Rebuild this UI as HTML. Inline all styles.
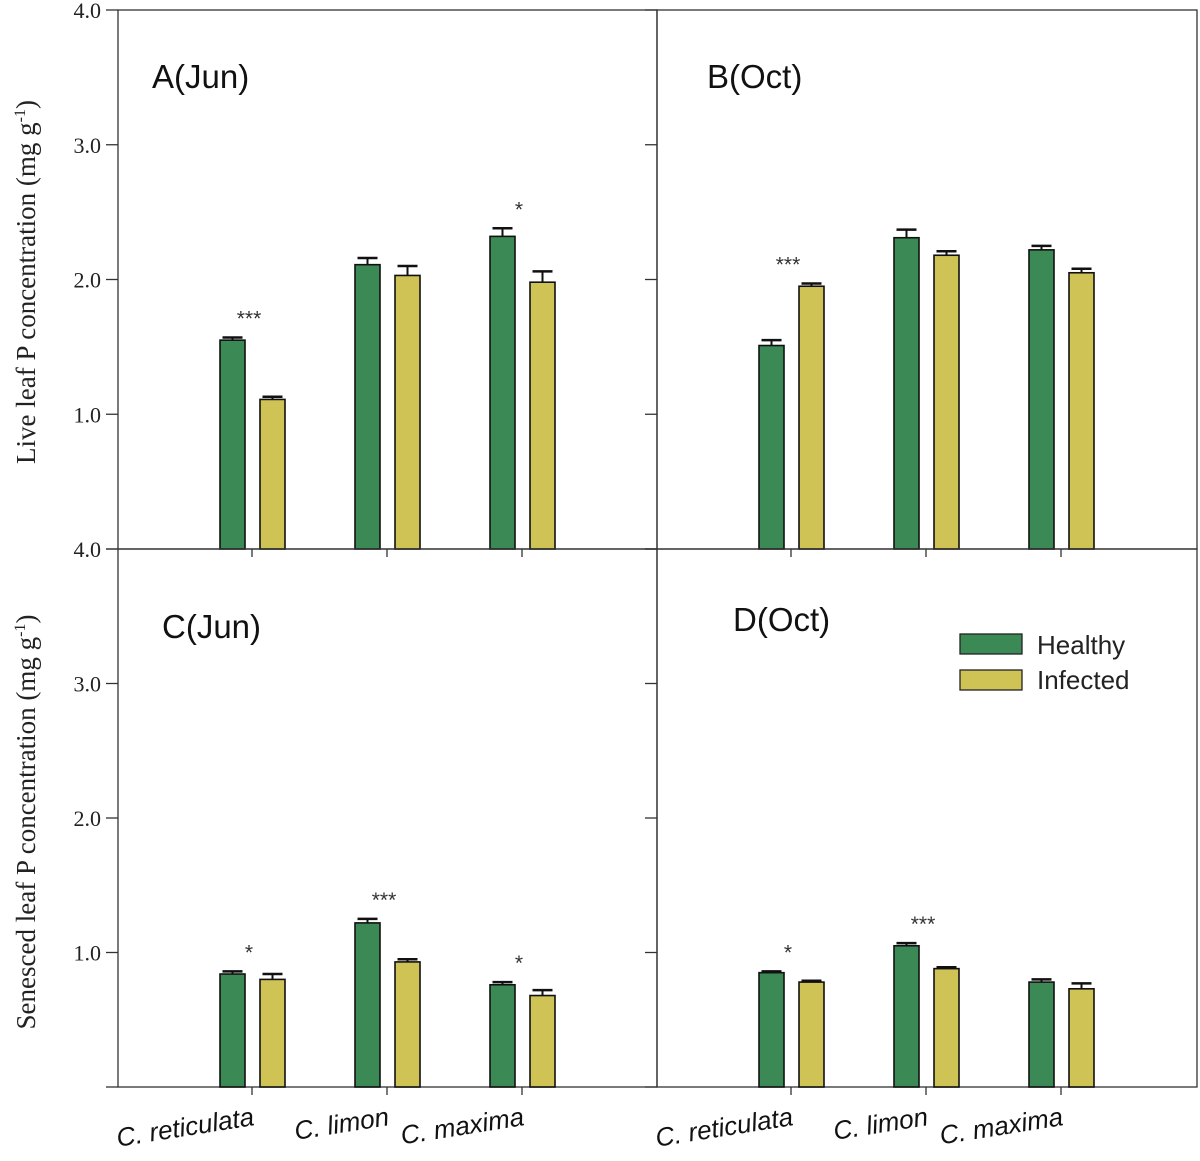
<!DOCTYPE html>
<html><head><meta charset="utf-8">
<style>
html,body{margin:0;padding:0;background:#fff;}
svg{display:block;}
</style></head>
<body>
<svg id="chart" width="1200" height="1161" viewBox="0 0 1200 1161" xmlns="http://www.w3.org/2000/svg"></svg>
<script>
const categories = ["C. reticulata", "C. limon", "C. maxima"];
const yTicks = [1, 2, 3, 4];
const yTickLabels = ["1.0", "2.0", "3.0", "4.0"];
// Panel A (Jun, live)
const aHealthy = [1.55, 2.11, 2.32];
const aHealthyErr = [0.02, 0.05, 0.06];
const aInfected = [1.11, 2.03, 1.98];
const aInfectedErr = [0.02, 0.07, 0.08];
const aStars = ["***", "", "*"];
// Panel B (Oct, live)
const bHealthy = [1.51, 2.31, 2.22];
const bHealthyErr = [0.04, 0.06, 0.03];
const bInfected = [1.95, 2.18, 2.05];
const bInfectedErr = [0.02, 0.03, 0.03];
const bStars = ["***", "", ""];
// Panel C (Jun, senesced)
const cHealthy = [0.84, 1.22, 0.76];
const cHealthyErr = [0.02, 0.03, 0.02];
const cInfected = [0.80, 0.93, 0.68];
const cInfectedErr = [0.04, 0.02, 0.04];
const cStars = ["*", "***", "*"];
// Panel D (Oct, senesced)
const dHealthy = [0.85, 1.05, 0.78];
const dHealthyErr = [0.01, 0.02, 0.02];
const dInfected = [0.78, 0.88, 0.73];
const dInfectedErr = [0.01, 0.01, 0.04];
const dStars = ["*", "***", ""];

const NS = "http://www.w3.org/2000/svg";
const svg = document.getElementById("chart");
const GREEN = "#3b8a55", YELLOW = "#cfc356";
function mk(tag, attrs, parent, text) {
  const e = document.createElementNS(NS, tag);
  for (const k in attrs) e.setAttribute(k, attrs[k]);
  if (text !== undefined) e.textContent = text;
  (parent || svg).appendChild(e);
  return e;
}
const panels = [
  {id:"a", label:"A(Jun)", x0:118, x1:657, top:10, bottom:549, h:aHealthy, he:aHealthyErr, f:aInfected, fe:aInfectedErr, stars:aStars, lx:152, ly:88},
  {id:"b", label:"B(Oct)", x0:657, x1:1197, top:10, bottom:549, h:bHealthy, he:bHealthyErr, f:bInfected, fe:bInfectedErr, stars:bStars, lx:707, ly:88},
  {id:"c", label:"C(Jun)", x0:118, x1:657, top:549, bottom:1087, h:cHealthy, he:cHealthyErr, f:cInfected, fe:cInfectedErr, stars:cStars, lx:162, ly:638},
  {id:"d", label:"D(Oct)", x0:657, x1:1197, top:549, bottom:1087, h:dHealthy, he:dHealthyErr, f:dInfected, fe:dInfectedErr, stars:dStars, lx:733, ly:631}
];
panels.forEach(p => {
  const g = mk("g", {});
  
  
  const scale = (p.bottom - p.top) / 4;
  const y = v => p.bottom - v * scale;
  const xc = i => p.x0 + 134 + i * 135;
  const fr = mk("rect", {x:p.x0, y:p.top, width:p.x1-p.x0, height:p.bottom-p.top, fill:"none", stroke:"#333", "stroke-width":1.3}, g);
  
  
  yTicks.forEach((t, k) => {
    mk("line", {x1:p.x0-12, x2:p.x0, y1:y(t), y2:y(t), stroke:"#333", "stroke-width":1.3}, g);
    if (p.x0 < 200) {
      const tl = mk("text", {x:p.x0-17, y:y(t)+8, "text-anchor":"end", "font-family":"Liberation Serif, serif", "font-size":22, fill:"#222"}, g, yTickLabels[k]);
      
      
    }
  });
  mk("line", {x1:p.x0-12, x2:p.x0, y1:p.bottom, y2:p.bottom, stroke:"#333", "stroke-width":1.3}, g);
  categories.forEach((c, i) => {
    mk("line", {x1:xc(i), x2:xc(i), y1:p.bottom, y2:p.bottom+8, stroke:"#333", "stroke-width":1.3}, g);
  });
  categories.forEach((c, i) => {
    [[p.h, p.he, GREEN, -32, "healthy"], [p.f, p.fe, YELLOW, 8, "infected"]].forEach(s => {
      const v = s[0][i], e = s[1][i], bx = xc(i) + s[3];
      const cx = bx + 12.5;
      mk("line", {x1:cx, x2:cx, y1:y(v), y2:y(v+e), stroke:"#111", "stroke-width":2}, g);
      const cap = mk("line", {x1:cx-10, x2:cx+10, y1:y(v+e), y2:y(v+e), stroke:"#111", "stroke-width":2.5}, g);
      
      
      const r = mk("rect", {x:bx, y:y(v), width:25, height:p.bottom - y(v), fill:s[2], stroke:"#111", "stroke-width":1.6}, g);
      
      
    });
    if (p.stars[i]) {
      const top = Math.max(p.h[i] + p.he[i], p.f[i] + p.fe[i]);
      const st = mk("text", {x:xc(i)-3, y:y(top)-12, "text-anchor":"middle", "font-family":"Liberation Sans, sans-serif", "font-size":21, fill:"#333"}, g, p.stars[i]);
      
      
    }
    if (p.bottom > 1000) {
      const lab = mk("text", {x:xc(i)+3, y:p.bottom+38, "text-anchor":"end", "font-family":"Liberation Sans, sans-serif", "font-size":26, "font-style":"italic", fill:"#111", transform:`rotate(-9 ${xc(i)+3} ${p.bottom+38})`}, g, c);
      
      
    }
  });
  const pl = mk("text", {x:p.lx, y:p.ly, "font-family":"Liberation Sans, sans-serif", "font-size":33, fill:"#111"}, g, p.label);
  
  
});
const t1 = mk("text", {x:0, y:0, "text-anchor":"middle", "font-family":"Liberation Serif, serif", "font-size":27, fill:"#222", transform:"translate(35 282) rotate(-90)"});


t1.innerHTML = 'Live leaf P concentration (mg g<tspan dy="-10" font-size="16">-1</tspan><tspan dy="10">)</tspan>';
const t2 = mk("text", {x:0, y:0, "text-anchor":"middle", "font-family":"Liberation Serif, serif", "font-size":27, fill:"#222", transform:"translate(35 822) rotate(-90)"});


t2.innerHTML = 'Senesced leaf P concentration (mg g<tspan dy="-10" font-size="16">-1</tspan><tspan dy="10">)</tspan>';
const lg = mk("g", {});


const l1 = mk("rect", {x:960, y:634, width:62, height:20, fill:GREEN, stroke:"#222", "stroke-width":1.3}, lg);


const lt1 = mk("text", {x:1037, y:654, "font-family":"Liberation Sans, sans-serif", "font-size":26, fill:"#222"}, lg, "Healthy");


const l2 = mk("rect", {x:960, y:670, width:62, height:20, fill:YELLOW, stroke:"#222", "stroke-width":1.3}, lg);


const lt2 = mk("text", {x:1037, y:689, "font-family":"Liberation Sans, sans-serif", "font-size":26, fill:"#222"}, lg, "Infected");


</script>
</body></html>
